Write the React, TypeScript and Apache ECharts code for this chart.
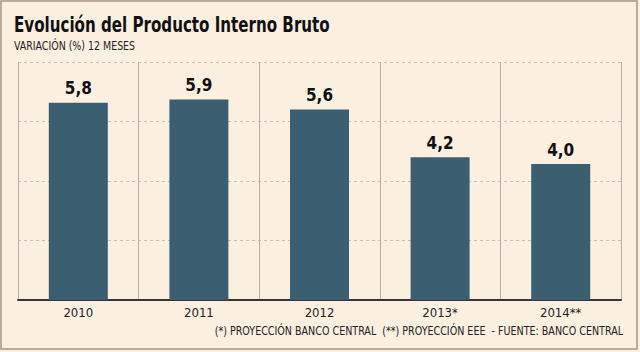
import React, { useEffect, useRef } from "react";
import * as echarts from "echarts";

const categories = ["2010", "2011", "2012", "2013*", "2014**"];
const values = [5.8, 5.9, 5.6, 4.2, 4.0];
const titleText = "Evolución del Producto Interno Bruto";
const subtitleText = "VARIACIÓN (%) 12 MESES";
const footerText = "(*) PROYECCIÓN BANCO CENTRAL  (**) PROYECCIÓN EEE  - FUENTE: BANCO CENTRAL";

const FONT = "'DejaVu Sans Condensed', 'DejaVu Sans', sans-serif";

export default function App() {
  const ref = useRef<HTMLDivElement>(null);
  useEffect(() => {
    if (!ref.current) return;
    const chart = echarts.init(ref.current, undefined, { renderer: "svg" });
    chart.setOption({
      animation: false,
      backgroundColor: "#fbf0e0",
      grid: { left: 18, right: 19, top: 62, bottom: 52 },
      xAxis: {
        type: "category",
        data: categories,
        axisLine: { lineStyle: { color: "#3a3330", width: 2 } },
        axisTick: { show: false },
        axisLabel: { color: "#222", fontSize: 13, fontFamily: FONT, margin: 6 },
        splitLine: { show: true, lineStyle: { color: "#b8b0a8", width: 1 } },
      },
      yAxis: {
        type: "value",
        min: 0,
        max: 7,
        interval: 1.75,
        axisLabel: { show: false },
        axisLine: { show: false },
        axisTick: { show: false },
        splitLine: { lineStyle: { color: "#c8c0b8", type: [3, 3], width: 1 } },
      },
      series: [
        {
          type: "bar",
          data: values,
          barWidth: 59,
          itemStyle: { color: "#3a5f70" },
          label: {
            show: true,
            position: "top",
            distance: 6,
            color: "#111",
            fontSize: 17,
            fontWeight: "bold",
            fontFamily: FONT,
            formatter: (p: any) => String(p.value.toFixed(1)).replace(".", ","),
          },
        },
      ],
      graphic: [
        {
          type: "rect",
          shape: { x: 1, y: 1, width: 636, height: 348 },
          style: { fill: "none", stroke: "#a89484", lineWidth: 1.5 },
          silent: true,
        },
        {
          type: "text",
          x: 14,
          y: 14,
          scaleX: 0.8,
          style: { text: titleText, fill: "#111", font: `bold 21px ${FONT}` },
        },
        {
          type: "text",
          x: 14,
          y: 39,
          scaleX: 0.84,
          style: { text: subtitleText, fill: "#222", font: `12.5px ${FONT}` },
        },
        {
          type: "text",
          x: 623,
          y: 325,
          scaleX: 0.885,
          style: { text: footerText, fill: "#222", font: `12px ${FONT}`, align: "right" },
        },
      ],
    });
    return () => chart.dispose();
  }, []);
  return (
    <div
      ref={ref}
      style={{ position: "fixed", left: 0, top: 0, width: 640, height: 352 }}
    />
  );
}
